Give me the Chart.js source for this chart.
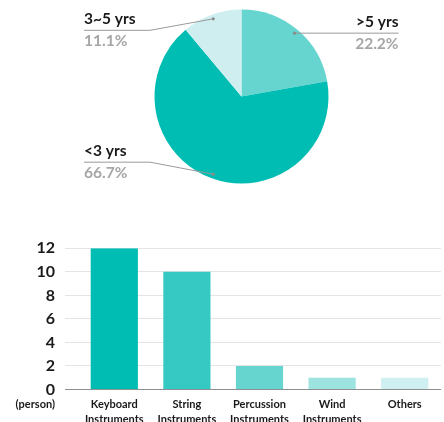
<!DOCTYPE html>
<html>
<head>
<meta charset="utf-8">
<script src="https://cdn.jsdelivr.net/npm/chart.js@4.4.1/dist/chart.umd.min.js"></script>
<style>
    html, body { margin: 0; padding: 0; background: #fff; overflow: hidden; }
    body { width: 444px; height: 422px; }
    #pieBox { position: absolute; left: 0; top: 0; width: 444px; height: 200px; }
    #barBox { position: absolute; left: 0; top: 200px; width: 444px; height: 240px; }
</style>
</head>
<body>
<div id="pieBox"><canvas id="pieChart"></canvas></div>
<div id="barBox"><canvas id="barChart"></canvas></div>
<script>
const pieLabels = ['>5 yrs', '<3 yrs', '3~5 yrs'];
const pieValues = [22.2, 66.7, 11.1];
const pieColors = ['#66d5d0', '#00bdb4', '#cfeef0'];

const barLabels = [['Keyboard', 'Instruments'], ['String', 'Instruments'], ['Percussion', 'Instruments'], ['Wind', 'Instruments'], 'Others'];
const barValues = [12, 10, 2, 1, 1];
const barColors = ['#00bdb4', '#36c9c3', '#66d5d0', '#9de3df', '#cfeff0'];
const yTicks = [0, 2, 4, 6, 8, 10, 12];
const unitLabel = '(person)';

const FONT = 'Lato, "Open Sans", sans-serif';

// leader lines + labels for the pie
const pieLabelPlugin = {
    id: 'pieLabels',
    afterDraw(chart) {
        const ctx = chart.ctx;
        const area = chart.chartArea;
        const arcs = chart.getDatasetMeta(0).data;
        ctx.save();
        arcs.forEach((arc, i) => {
            const mid = (arc.startAngle + arc.endAngle) / 2;
            const r = arc.outerRadius * 0.95;
            const dx = arc.x + Math.cos(mid) * r;
            const dy = arc.y + Math.sin(mid) * r;
            const right = Math.cos(mid) > 0;
            let lineY, textX, align;
            ctx.strokeStyle = '#9a9a9a';
            ctx.lineWidth = 1;
            ctx.beginPath();
            if (right) {
                lineY = dy;
                textX = area.right + 70;
                align = 'right';
                ctx.moveTo(dx, dy);
                ctx.lineTo(textX, lineY);
            } else {
                lineY = dy + (dy < arc.y ? 11.5 : -12);
                textX = area.left - 70.5;
                align = 'left';
                ctx.moveTo(dx, dy);
                ctx.lineTo(area.left - 4.5, lineY);
                ctx.lineTo(textX, lineY);
            }
            ctx.stroke();
            ctx.fillStyle = '#8a8a8a';
            ctx.beginPath();
            ctx.arc(dx, dy, 1.6, 0, Math.PI * 2);
            ctx.fill();

            ctx.textAlign = align;
            ctx.textBaseline = 'alphabetic';
            ctx.font = 'bold 15.5px ' + FONT;
            ctx.fillStyle = '#1a1a1a';
            ctx.fillText(chart.data.labels[i], textX, lineY - 6);
            ctx.fillStyle = '#a6a6a6';
            ctx.fillText(chart.data.datasets[0].data[i].toFixed(1) + '%', textX, lineY + 16);
        });
        ctx.restore();
    }
};

new Chart(document.getElementById('pieChart'), {
    type: 'pie',
    data: {
        labels: pieLabels,
        datasets: [{
            data: pieValues,
            backgroundColor: pieColors,
            borderWidth: 0
        }]
    },
    options: {
        responsive: true,
        maintainAspectRatio: false,
        animation: false,
        layout: { padding: { left: 154.5, right: 115.5, top: 9.5, bottom: 16.5 } },
        plugins: {
            legend: { display: false },
            tooltip: { enabled: false }
        }
    },
    plugins: [pieLabelPlugin]
});

// "(person)" under the y axis, on the row of the category labels
const unitPlugin = {
    id: 'unitLabel',
    afterDraw(chart) {
        const ctx = chart.ctx;
        const y = chart.scales.y;
        const x = chart.scales.x;
        ctx.save();
        ctx.font = 'bold 11px ' + FONT;
        ctx.fillStyle = '#1a1a1a';
        ctx.textAlign = 'right';
        ctx.textBaseline = 'middle';
        ctx.fillText(unitLabel, y.right - 13 - 10, x.top + 8 + 7.3);
        ctx.restore();
    }
};

new Chart(document.getElementById('barChart'), {
    type: 'bar',
    data: {
        labels: barLabels,
        datasets: [{
            data: barValues,
            backgroundColor: barColors,
            borderWidth: 0,
            barPercentage: 0.65,
            categoryPercentage: 1
        }]
    },
    options: {
        responsive: true,
        maintainAspectRatio: false,
        animation: false,
        layout: { padding: { left: 0, right: 3, top: 48.3, bottom: 5.3 } },
        plugins: {
            legend: { display: false },
            tooltip: { enabled: false }
        },
        scales: {
            x: {
                grid: { display: false, drawTicks: false },
                border: { display: false },
                ticks: {
                    padding: 8,
                    color: '#1a1a1a',
                    maxRotation: 0,
                    autoSkip: false,
                    font: { family: FONT, size: 11, weight: 'bold', lineHeight: 1.33 }
                }
            },
            y: {
                min: yTicks[0],
                max: yTicks[yTicks.length - 1],
                afterFit(scale) { scale.width = 78; },
                afterBuildTicks(scale) { scale.ticks = yTicks.map(v => ({ value: v })); },
                border: { display: false },
                grid: {
                    color: (c) => (c.tick && c.tick.value === 0) ? '#8f8f8f' : '#e4e4e4',
                    lineWidth: 1,
                    tickLength: 13
                },
                ticks: {
                    padding: 10,
                    color: '#1a1a1a',
                    font: { family: FONT, size: 16, weight: 'bold' }
                }
            }
        }
    },
    plugins: [unitPlugin]
});
</script>
</body>
</html>
